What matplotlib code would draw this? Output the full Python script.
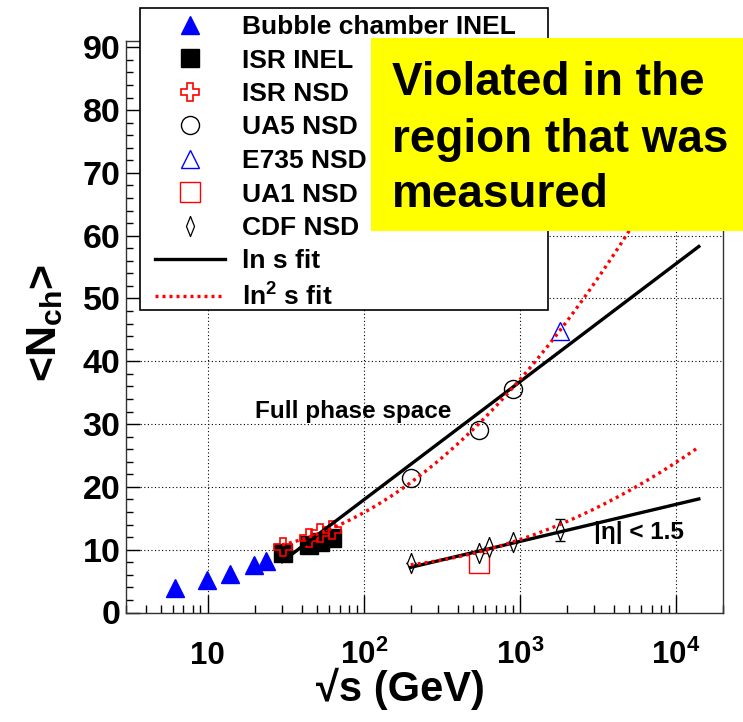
import numpy as np
import matplotlib.pyplot as plt
from matplotlib.patches import Rectangle
from matplotlib.ticker import FixedLocator, FixedFormatter, MultipleLocator, LogLocator, NullFormatter

plt.rcParams['font.family'] = ['Liberation Sans', 'DejaVu Sans']
plt.rcParams['font.weight'] = 'bold'
plt.rcParams['mathtext.fontset'] = 'custom'
plt.rcParams['mathtext.rm'] = 'Liberation Sans:bold'
plt.rcParams['mathtext.it'] = 'Liberation Sans:bold'
plt.rcParams['mathtext.bf'] = 'Liberation Sans:bold'

# charged multiplicity vs sqrt(s)
bubble_x = [6.2, 9.9, 14.0, 19.8, 23.8]
bubble_y = [3.85, 5.2, 6.1, 7.6, 8.25]
isr_x = [30.4, 44.5, 52.6, 62.2]
isr_inel_y = [9.4, 10.8, 11.3, 11.9]
isr_nsd_y = [10.4, 11.8, 12.6, 13.2]
ua5_x = [200, 546, 900]
ua5_y = [21.4, 29.0, 35.6]
e735_x = [1800]
e735_y = [44.8]
ua1_x = [546]
ua1_y = [7.9]
cdf_x = [200, 546, 630, 900, 1800]
cdf_y = [7.9, 9.5, 10.5, 11.3, 13.2]
cdf_err = [0.0, 0.0, 0.0, 0.0, 1.75]

# fits: N = a + b ln s (+ c ln^2 s)
full_lin = (-19.66, 4.082)
full_quad = (18.32, -3.503, 0.3518)
eta_lin = (-6.38, 1.281)
eta_quad = (21.14, -3.212, 0.1825)
full_range = (30, 14000)
eta_range = (200, 14000)

x_ticks = [10, 100, 1000, 10000]
x_tick_labels = ['10', '10$^{2}$', '10$^{3}$', '10$^{4}$']

fig = plt.figure(figsize=(7.43, 7.22), dpi=100)
ax = fig.add_axes([126/743, 109.5/722, 597/743, 571.5/722])
ax.set_xscale('log')
ax.set_xlim(3, 2e4)
ax.set_ylim(0, 91)

ax.grid(True, which='major', color='black', linestyle=(0, (1, 2.2)), linewidth=0.8)
ax.set_axisbelow(True)

ms = 12.5
ax.plot(bubble_x, bubble_y, '^', color='blue', ms=ms, ls='none', label='Bubble chamber INEL')
ax.plot(isr_x, isr_inel_y, 's', color='black', ms=ms, ls='none', label='ISR INEL')
ax.plot(isr_x, isr_nsd_y, 'P', mfc='none', mec='red', mew=1.2, ms=ms+1, ls='none', label='ISR NSD')
ax.plot(ua5_x, ua5_y, 'o', mfc='none', mec='black', mew=1.0, ms=ms+0.5, ls='none', label='UA5 NSD')
ax.plot(e735_x, e735_y, '^', mfc='none', mec='blue', mew=1.0, ms=ms+0.5, ls='none', label='E735 NSD')
ax.plot(ua1_x, ua1_y, 's', mfc='none', mec='red', mew=1.0, ms=ms+1.5, ls='none', label='UA1 NSD')
thin_diamond = [(0, 1), (0.4, 0), (0, -1), (-0.4, 0), (0, 1)]
ax.errorbar(cdf_x, cdf_y, yerr=cdf_err, fmt='none', ecolor='black', elinewidth=0.8, capsize=3.5)
ax.plot(cdf_x, cdf_y, marker=thin_diamond, mfc='white', mec='black', mew=0.9, ms=14.5, ls='none', label='CDF NSD')


def lin_fit(p, rng):
    x = np.geomspace(rng[0], rng[1], 200)
    ls = np.log(x**2)
    return x, p[0] + p[1]*ls


def quad_fit(p, rng):
    x = np.geomspace(rng[0], rng[1], 200)
    ls = np.log(x**2)
    return x, p[0] + p[1]*ls + p[2]*ls**2


dots = (0, (0.9, 1.2))
x, y = quad_fit(full_quad, full_range)
ax.plot(x, y, color='red', lw=2.4, ls=dots, zorder=4)
x, y = lin_fit(full_lin, full_range)
ax.plot(x, y, color='black', lw=2.4, zorder=3.9, label='ln s fit')
x, y = quad_fit(eta_quad, eta_range)
ax.plot(x, y, color='red', lw=2.4, ls=dots, zorder=4, label='ln$^{2}$ s fit')
x, y = lin_fit(eta_lin, eta_range)
ax.plot(x, y, color='black', lw=2.4, zorder=3.9)

ax.text(20.2, 31.0, 'Full phase space', fontsize=17.5, fontweight='bold', va='baseline', ha='left')
ax.text(3000, 11.7, '|η| < 1.5', fontsize=17.5, fontweight='bold', va='baseline', ha='left')

# axes ticks
ax.xaxis.set_major_locator(FixedLocator(x_ticks))
ax.xaxis.set_major_formatter(FixedFormatter(x_tick_labels))
ax.xaxis.set_minor_locator(LogLocator(base=10, subs=np.arange(2, 10)))
ax.xaxis.set_minor_formatter(NullFormatter())
ax.yaxis.set_major_locator(MultipleLocator(10))
ax.yaxis.set_minor_locator(MultipleLocator(2))
ax.tick_params(which='both', direction='in', top=False, right=False, width=1.0)
ax.tick_params(axis='x', which='major', length=13, labelsize=22.5, pad=37)
ax.tick_params(axis='x', which='minor', length=6)
ax.tick_params(axis='y', which='major', length=10, labelsize=24.5, pad=4)
ax.tick_params(axis='y', which='minor', length=5)
for lab in ax.get_xticklabels():
    lab.set_verticalalignment('baseline')
for s in ax.spines.values():
    s.set_linewidth(1.0)
    s.set_color('#333333')

ax.set_xlabel('√s (GeV)', fontsize=30, fontweight='bold', va='baseline')
ax.xaxis.set_label_coords((400 - 126)/597, -(701 - 612.5)/571.5)
ax.set_ylabel('<N$_{ch}$>', fontsize=31, fontweight='bold', va='center', ha='center')
ax.yaxis.set_label_coords((45 - 126)/597, (612.5 - 323)/571.5)

# legend box
W, H = 743, 722
fig.patches.append(Rectangle((140/W, 1 - 310/H), 408/W, 302/H, transform=fig.transFigure,
                             facecolor='white', edgecolor='black', lw=1.2, zorder=4))
handles, labels = ax.get_legend_handles_labels()
leg = fig.legend(handles, labels, loc='upper left', bbox_to_anchor=(155/W, 1 - 15/H),
                 bbox_transform=fig.transFigure, frameon=False, numpoints=1,
                 handlelength=2.65, handletextpad=0.64, borderpad=0, borderaxespad=0,
                 labelspacing=0.36, prop={'weight': 'bold', 'size': 19})
leg.set_zorder(5)

# yellow note
fig.patches.append(Rectangle((371/W, 1 - 231/H), 372/W, 193/H, transform=fig.transFigure,
                             facecolor='#ffff00', edgecolor='none', zorder=6))
note_lines = ['Violated in the', 'region that was', 'measured']
for line, base in zip(note_lines, [95, 152, 207]):
    fig.text(392/W, 1 - base/H, line, fontsize=33, fontweight='bold', va='baseline', ha='left', zorder=7)

fig.savefig('out.png', dpi=100)
